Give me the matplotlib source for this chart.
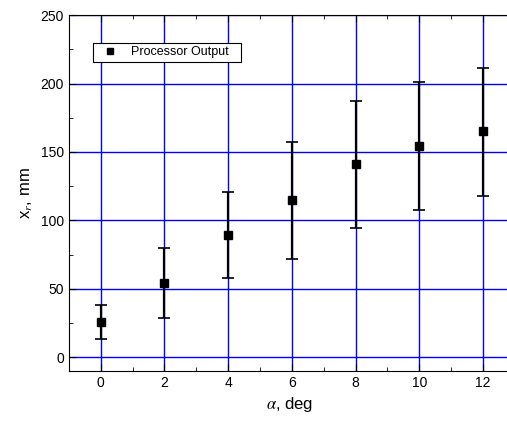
import numpy as np
import matplotlib
matplotlib.use("Agg")
from matplotlib import pyplot as plt
from matplotlib.lines import Line2D
from matplotlib.ticker import MultipleLocator

# data
alpha = [0, 2, 4, 6, 8, 10, 12]
xr = [25.5, 54, 89.6, 114.6, 140.9, 154.5, 165]
xr_low = [13, 28.7, 57.7, 71.8, 94.2, 107.5, 118]
xr_high = [38, 80, 121, 157.4, 187.4, 201.5, 211.7]


def main():
    plt.rcParams['font.family'] = ['Liberation Sans', 'DejaVu Sans']
    plt.rcParams['mathtext.fontset'] = 'stix'

    fig = plt.figure(figsize=(5.07, 4.21), dpi=100)
    ax = fig.add_axes([0.136, 0.119, 0.87, 0.845])

    y = np.array(xr)
    yerr = [y - np.array(xr_low), np.array(xr_high) - y]
    ax.errorbar(alpha, y, yerr=yerr, fmt='s', color='black', ms=5.5,
                elinewidth=1.6, capsize=4, capthick=1.2, zorder=3)

    ax.set_xlim(-1, 12.85)
    ax.set_ylim(-10, 250)
    ax.xaxis.set_major_locator(MultipleLocator(2))
    ax.xaxis.set_minor_locator(MultipleLocator(1))
    ax.yaxis.set_major_locator(MultipleLocator(50))
    ax.yaxis.set_minor_locator(MultipleLocator(25))
    ax.tick_params(which='both', direction='in', top=True, right=False, labelsize=10)
    ax.tick_params(which='major', length=5)
    ax.tick_params(which='minor', length=3)
    ax.grid(True, which='major', color='blue', lw=1.0)
    ax.set_axisbelow(True)
    ax.spines['right'].set_visible(False)

    ax.set_xlabel(r'$\alpha$, deg', fontsize=12)
    ax.set_ylabel(r'x$_r$, mm', fontsize=12)

    # legend box stretched to the reference width
    handle = Line2D([], [], ls='none', marker='s', color='black', ms=5)
    leg = ax.legend([handle], ['Processor Output'], loc='upper left',
                    bbox_to_anchor=(0.055, 0.5, 0.336, 0.421), mode='expand',
                    fontsize=9, fancybox=False, framealpha=1, edgecolor='black',
                    handlelength=2.2, handletextpad=0.55, borderpad=0.25,
                    borderaxespad=0)
    leg.get_frame().set_linewidth(0.8)

    fig.savefig('out.png', dpi=100)


if __name__ == "__main__":
    main()
